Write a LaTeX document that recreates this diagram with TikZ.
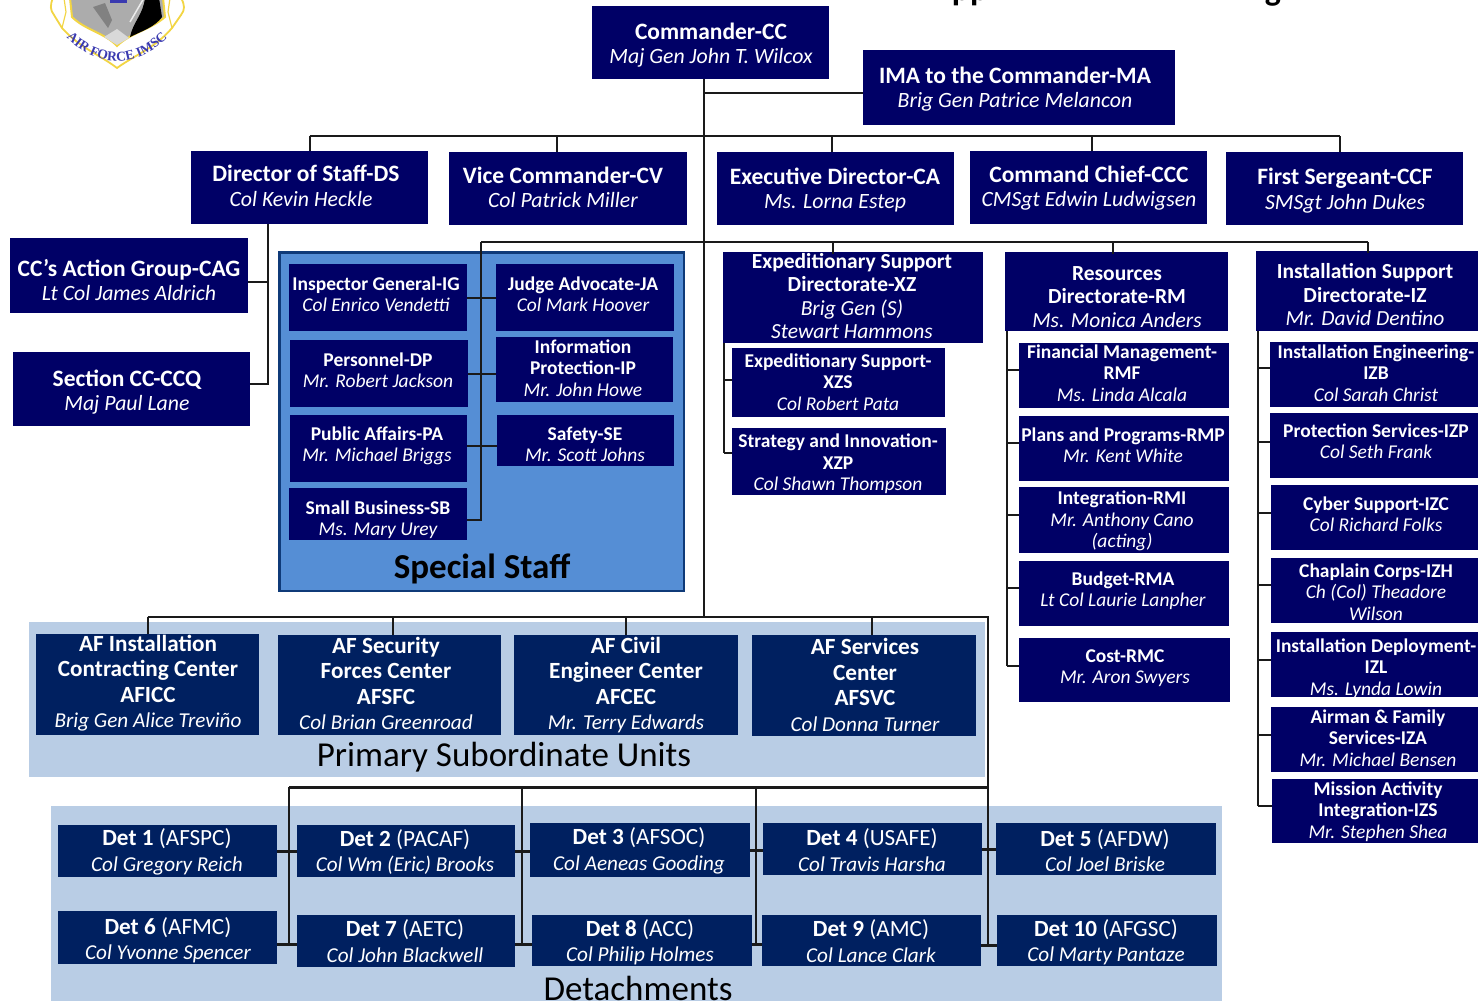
\documentclass[tikz,border=0pt]{standalone}
\usepackage{fontspec}
\setmainfont{Carlito}
\newfontfamily\crestfont{Liberation Serif}
\usetikzlibrary{decorations.text}
\definecolor{navybox}{HTML}{000066}
\definecolor{unitbox}{HTML}{002060}
\definecolor{staffblue}{HTML}{558ED5}
\definecolor{staffedge}{HTML}{0F3A78}
\definecolor{palepanel}{HTML}{B9CDE5}
\definecolor{wirecol}{HTML}{1A1A1A}
\definecolor{crestblue}{HTML}{3A3AB0}
\definecolor{crestgold}{HTML}{F2D544}
\colorlet{boxfill}{navybox}
\tikzset{
  orgrect/.style={fill=boxfill,inner sep=0pt,outer sep=0pt},
  orgtext/.style={text=white,align=center,inner sep=0pt},
  big/.style={font=\fontsize{23.5}{24.5}\selectfont},
  mid/.style={font=\fontsize{21.5}{23.5}\selectfont},
  low/.style={font=\fontsize{19.5}{21.3}\selectfont},
  unit/.style={font=\fontsize{23.2}{25.5}\selectfont},
  wire/.style={draw=wirecol,line width=2pt},
  bus/.style={draw=wirecol,line width=3pt},
  caption/.style={text=black,inner sep=0pt,font=\fontsize{35}{38}\selectfont},
}
\newcommand{\hd}[1]{{\bfseries #1}}
\newcommand{\nm}[1]{{\itshape #1}}
\newcommand{\nb}[1]{{\fontsize{21.8}{24.5}\selectfont\itshape #1}}
\newcommand{\nun}[1]{{\fontsize{21.2}{25.5}\selectfont\itshape #1}}
% box corners, then centre of the text
\def\orgbox[#1]#2(#3,#4)(#5,#6)(#7,#8)#9{%
  \pgfmathsetmacro\bw{#5-#3}\pgfmathsetmacro\bh{#6-#4}%
  \node[orgrect,minimum width=\bw pt,minimum height=\bh pt] (#2) at ({(#3+#5)/2},{(#4+#6)/2}) {};
  \node[orgtext,#1] (#2t) at (#7,#8) {#9};}
\begin{document}
\begin{tikzpicture}[x=1pt,y=-1pt]
  \clip (0,0) rectangle (1478,1001);
  % title, only its tails are in the frame
  \node[anchor=base,inner sep=0pt,font=\fontsize{34}{36}\selectfont\bfseries] (titlea) at (970,1) {pp};
  \node[anchor=base,inner sep=0pt,font=\fontsize{34}{36}\selectfont\bfseries] (titleb) at (1273,1) {g};
  % crest
  \fill[white,draw=crestgold,line width=1.8pt] (53,-2) .. controls (50,5) and (50,10) .. (54,15) -- (62,28)
    .. controls (80,48) and (100,55) .. (117,68) .. controls (135,55) and (155,48) .. (172,28)
    -- (181,15) .. controls (185,10) and (185,5) .. (181,-2) -- cycle;
  \draw[crestgold,line width=1.2pt] (64,-2) -- (66,12) -- (62,28) (170,-2) -- (168,12) -- (172,28);
  \fill[gray!65,draw=crestgold,line width=2pt] (70,-2) -- (72,17) .. controls (85,30) and (105,33) .. (117,46)
    .. controls (130,33) and (150,30) .. (165,17) -- (163,-2) -- cycle;
  \fill[black] (145,-2) .. controls (143,15) and (133,22) .. (130,37) .. controls (142,31) and (155,27) .. (162,17) -- (159,-2) -- cycle;
  \draw[gray!15,line width=1.5pt] (144,-2) -- (130,22);
  \fill[gray!35!black!60] (93,7) -- (105,3) -- (112,20) -- (108,28) -- cycle;
  \fill[gray!30] (104,37) -- (117,29) -- (129,38) -- (117,45) -- cycle;
  \fill[crestblue] (110,-2) rectangle (127,3);
  \path[decorate,decoration={text along path,text align=center,
    text={|\fontsize{13.5}{14}\crestfont\bfseries\color{crestblue}|AIR FORCE IMSC}}]
    (58,28) .. controls (92,72) and (142,72) .. (176,28);
  % panels
  \fill[palepanel] (29,622) rectangle (985,777);
  \fill[palepanel] (51,806) rectangle (1222,1010);
  \filldraw[fill=staffblue,draw=staffedge,line width=2.5pt] (279.5,252.5) rectangle (684,591);
  \node[caption,font=\fontsize{35}{38}\selectfont\bfseries] (stafflabel) at (482,569) {Special Staff};
  \node[caption] (psulabel) at (504,757.5) {Primary Subordinate Units};
  \node[caption] (detlabel) at (638,988) {Detachments};
  % command group
  \orgbox[big]{cc}(592,6)(829,79)(711,45){\hd{Commander-CC}\\\nb{Maj Gen John T. Wilcox}}
  \orgbox[big]{ma}(863,50)(1175,125)(1015,89){\hd{IMA to the Commander-MA}\\\nb{Brig Gen Patrice Melancon}}
  \orgbox[big]{ds}(191,151)(428,224)(306,186){\hd{Director of Staff-DS}\\\nb{Col Kevin Heckle}\hspace*{10pt}}
  \orgbox[big]{cv}(449,152)(687,225)(563,187.5){\hd{Vice Commander-CV}\\\nb{Col Patrick Miller}}
  \orgbox[big]{ca}(717,152)(954,225)(835,190){\hd{Executive Director-CA}\\\nb{Ms. Lorna Estep}}
  \orgbox[big]{ccc}(970,151)(1207,224)(1089,188){\hd{Command Chief-CCC}\\\nb{CMSgt Edwin Ludwigsen}}
  \orgbox[big]{ccf}(1226,152)(1463,225)(1345,190.5){\hd{First Sergeant-CCF}\\\nb{SMSgt John Dukes}}
  \orgbox[big]{cag}(10,238)(248,313)(129,280){\hd{CC's Action Group-CAG}\\\nb{Lt Col James Aldrich}}
  \orgbox[big]{ccq}(13,352)(250,426)(127,392){\hd{Section CC-CCQ}\\\nb{Maj Paul Lane}}
  % special staff
  \orgbox[low]{ig}(289,264)(467,331)(376,294){\hd{Inspector General-IG}\\\nm{Col Enrico Vendetti}}
  \orgbox[low]{ja}(496,264)(674,331)(583,294){\hd{Judge Advocate-JA}\\\nm{Col Mark Hoover}}
  \orgbox[low]{dp}(290,340)(468,407)(378,370){\hd{Personnel-DP}\\\nm{Mr. Robert Jackson}}
  \orgbox[low]{ip}(496,337)(673,402)(583,368){\hd{Information}\\\hd{Protection-IP}\\\nm{Mr. John Howe}}
  \orgbox[low]{pa}(290,415)(467,482)(377,446){\hd{Public Affairs-PA}\\\nm{Mr. Michael Briggs}}
  \orgbox[low]{se}(497,415)(674,466)(585,444){\hd{Safety-SE}\\\nm{Mr. Scott Johns}}
  \orgbox[low]{sb}(289,488)(467,540)(378,519.5){\hd{Small Business-SB}\\\nm{Ms. Mary Urey}}
  % directorates
  \orgbox[mid]{xz}(723,252)(983,343)(852,296){\hd{Expeditionary Support}\\\hd{Directorate-XZ}\\\nm{Brig Gen (S)}\\\nm{Stewart Hammons}}
  \orgbox[low]{xzs}(732,348)(945,417)(838,382){\hd{Expeditionary Support-}\\\hd{XZS}\\\nm{Col Robert Pata}}
  \orgbox[low]{xzp}(732,428)(946,495)(838,464){\hd{Strategy and Innovation-}\\\hd{XZP}\\\nm{Col Shawn Thompson}}
  \orgbox[mid]{rm}(1005,252)(1228,331)(1117,297){\hd{Resources}\\\hd{Directorate-RM}\\\nm{Ms. Monica Anders}}
  \orgbox[low]{rmf}(1019,343)(1229,408)(1122,373){\hd{Financial Management-}\\\hd{RMF}\\\nm{Ms. Linda Alcala}}
  \orgbox[low]{rmp}(1019,416)(1229,481)(1123,445){\hd{Plans and Programs-RMP}\\\nm{Mr. Kent White}}
  \orgbox[low]{rmi}(1019,487)(1229,553)(1122,521){\hd{Integration-RMI}\\\nm{Mr. Anthony Cano}\\\nm{(acting)}}
  \orgbox[low]{rma}(1019,561)(1229,626)(1123,591){\hd{Budget-RMA}\\\nm{Lt Col Laurie Lanpher}}
  \orgbox[low]{rmc}(1019,638)(1230,702)(1125,668){\hd{Cost-RMC}\\\nm{Mr. Aron Swyers}}
  \orgbox[mid]{iz}(1256,251)(1478,331)(1365,295){\hd{Installation Support}\\\hd{Directorate-IZ}\\\nm{Mr. David Dentino}}
  \orgbox[low]{izb}(1270,342)(1478,407)(1376,373){\hd{Installation Engineering-}\\\hd{IZB}\\\nm{Col Sarah Christ}}
  \orgbox[low]{izp}(1270,413)(1478,478)(1376,441){\hd{Protection Services-IZP}\\\nm{Col Seth Frank}}
  \orgbox[low]{izc}(1271,485)(1478,550)(1376,514){\hd{Cyber Support-IZC}\\\nm{Col Richard Folks}}
  \orgbox[low]{izh}(1271,558)(1478,623)(1376,592){\hd{Chaplain Corps-IZH}\\\nm{Ch (Col) Theadore}\\\nm{Wilson}}
  \orgbox[low]{izl}(1271,632)(1478,697)(1376,668.5){\hd{Installation Deployment-}\\\hd{IZL}\\\nm{Ms. Lynda Lowin}}
  \orgbox[low]{iza}(1271,707)(1478,772)(1378,738){\hd{Airman \& Family}\\\hd{Services-IZA}\\\nm{Mr. Michael Bensen}}
  \orgbox[low]{izs}(1272,779)(1478,843)(1378,811.5){\hd{Mission Activity}\\\hd{Integration-IZS}\\\nm{Mr. Stephen Shea}}
  % units and detachments
  \colorlet{boxfill}{unitbox}
  \orgbox[unit]{aficc}(36,634)(259,735)(148,683){\hd{AF Installation}\\\hd{Contracting Center}\\\hd{AFICC}\\\nun{Brig Gen Alice Treviño}}
  \orgbox[unit]{afsfc}(278,635)(501,735)(386,683.5){\hd{AF Security}\\\hd{Forces Center}\\\hd{AFSFC}\\\nun{Col Brian Greenroad}}
  \orgbox[unit]{afcec}(514,635)(738,735)(626,685){\hd{AF Civil}\\\hd{Engineer Center}\\\hd{AFCEC}\\\nun{Mr. Terry Edwards}}
  \orgbox[unit]{afsvc}(752,635)(976,736)(865,685){\hd{AF Services}\\\hd{Center}\\\hd{AFSVC}\\\nun{Col Donna Turner}}
  \orgbox[unit]{deta}(58,825)(277,877)(167,852){\hd{Det 1} (AFSPC)\\\nun{Col Gregory Reich}}
  \orgbox[unit]{detb}(297,825)(515,877)(405,852){\hd{Det 2} (PACAF)\\\nun{Col Wm (Eric) Brooks}}
  \orgbox[unit]{detc}(530,823)(750,877)(639,851){\hd{Det 3} (AFSOC)\\\nun{Col Aeneas Gooding}}
  \orgbox[unit]{detd}(763,823)(982,875)(872,850){\hd{Det 4} (USAFE)\\\nun{Col Travis Harsha}}
  \orgbox[unit]{dete}(996,823)(1216,875)(1105,850.5){\hd{Det 5} (AFDW)\\\nun{Col Joel Briske}}
  \orgbox[unit]{detf}(58,911)(277,964)(168,940){\hd{Det 6} (AFMC)\\\nun{Col Yvonne Spencer}}
  \orgbox[unit]{detg}(297,915)(515,967)(405,941){\hd{Det 7} (AETC)\\\nun{Col John Blackwell}}
  \orgbox[unit]{deth}(532,915)(752,966)(640,942){\hd{Det 8} (ACC)\\\nun{Col Philip Holmes}}
  \orgbox[unit]{deti}(762,915)(981,966)(871,941){\hd{Det 9} (AMC)\\\nun{Col Lance Clark}}
  \orgbox[unit]{detj}(997,915)(1217,966)(1106,942){\hd{Det 10} (AFGSC)\\\nun{Col Marty Pantaze}}
  % connectors
  \coordinate (busa) at (704,136);
  \coordinate (busb) at (704,242);
  \coordinate (busc) at (704,617);
  \coordinate (busd) at (988,787);
  \draw[wire] ([xshift=-6.5pt]cc.south) -- (busc);
  \draw[wire] ([yshift=-5.5pt]ma.west) -- ([yshift=-5.5pt]ma.west -| busc);
  \draw[wire] (ds.north |- busa) -- ([xshift=-4.5pt]ccf.north |- busa);
  \foreach \n/\d in {ds/0,cv/-11,ca/-3.5,ccc/3.5,ccf/-4.5}
  \draw[wire] ([xshift=\d pt]\n.north) -- ([xshift=\d pt]\n.north |- busa);
  % director of staff
  \coordinate (dsstem) at ([xshift=-41.5pt]ds.south);
  \draw[wire] (dsstem) -- ([yshift=5pt]ccq.east -| dsstem) -- ([yshift=5pt]ccq.east);
  \draw[wire] ([yshift=-6.5pt]cag.east) -- ([yshift=-6.5pt]cag.east -| dsstem);
  % staff
  \coordinate (staffstem) at (481,242);
  \draw[wire] (staffstem) -- ([xshift=1pt]iz.north |- busb);
  \draw[wire] (staffstem) -- ([yshift=-6pt]sb.east -| staffstem) -- ([yshift=-6pt]sb.east);
  \draw[wire] (ig.east) -- (ja.west);
  \draw[wire] (dp.east) -- (dp.east -| ip.west);
  \draw[wire] ([yshift=3pt]pa.east) -- ([yshift=3pt]pa.east -| se.west);
  \foreach \n/\d in {xz/-20,rm/-3.5,iz/1}
  \draw[wire] ([xshift=\d pt,yshift=-2pt]\n.north) -- ([xshift=\d pt]\n.north |- busb);
  % directorates
  \coordinate (xzstem) at ([xshift=-129pt]xz.south);
  \coordinate (rmstem) at ([xshift=-109.5pt]rm.south);
  \coordinate (izstem) at ([xshift=-109pt]iz.south);
  \draw[wire] (xzstem) -- ([yshift=8.5pt]xzp.west -| xzstem);
  \draw[wire] (rmstem) -- ([yshift=4pt]rmc.west -| rmstem);
  \draw[wire] (izstem) -- ([yshift=5pt]izs.west -| izstem);
  \foreach \s/\n/\d in {xzstem/xzs/2.5,xzstem/xzp/8.5,
    rmstem/rmf/5.5,rmstem/rmp/5.5,rmstem/rmi/5,rmstem/rma/5.5,rmstem/rmc/4,
    izstem/izb/6.5,izstem/izp/3.5,izstem/izc/4.5,izstem/izh/5.5,izstem/izl/4.5,izstem/iza/4.5,izstem/izs/5}
  \draw[wire] ([yshift=\d pt]\n.west -| \s) -- ([yshift=\d pt]\n.west);
  % units
  \draw[wire] (aficc.north |- busc) -- (busd |- busc) -- (busd);
  \foreach \n/\d in {aficc/0.5,afsfc/3.5,afcec/0,afsvc/8}
  \draw[wire] ([xshift=\d pt]\n.north) -- ([xshift=\d pt]\n.north |- busc);
  % detachments
  \coordinate (dva) at (289,787);
  \coordinate (dvb) at (522,787);
  \coordinate (dvc) at (756,787);
  \draw[bus] (dva) -- (busd);
  \foreach \s/\n/\d in {dva/detf/-6.5,dvb/detg/-3,dvc/deth/-3.5,busd/deti/-5}
  \draw[wire] (\s) -- ([yshift=\d pt]\n.east -| \s);
  \foreach \a/\b/\d in {deta/detb/0,detb/detc/0,detc/detd/0,detd/dete/0,
    detf/detg/-6.5,detg/deth/-3,deth/deti/-3.5,deti/detj/-5}
  \draw[bus] ([yshift=\d pt]\a.east) -- ([yshift=\d pt]\a.east -| \b.west);
\end{tikzpicture}
\end{document}
